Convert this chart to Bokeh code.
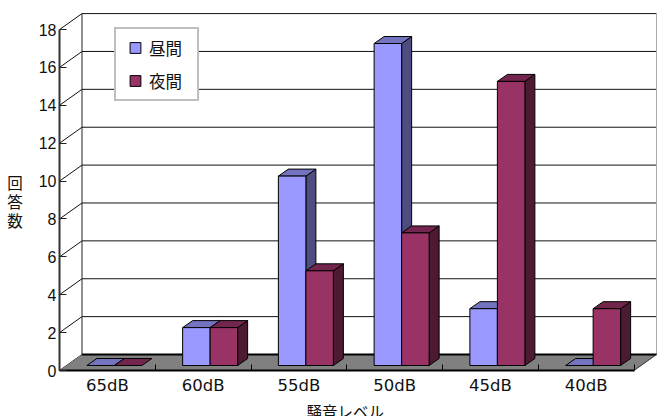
from bokeh.embed import file_html
from bokeh.models import FixedTicker, Legend, LegendItem, Range1d, Title
from bokeh.plotting import figure
from bokeh.resources import INLINE

# Noise survey: number of answers per noise level, daytime and night-time
levels = ["65dB", "60dB", "55dB", "50dB", "45dB", "40dB"]
daytime = [0, 2, 10, 17, 3, 0]
nighttime = [0, 2, 5, 7, 15, 3]
y_ticks = [0, 2, 4, 6, 8, 10, 12, 14, 16, 18]
day_label = "昼間"
night_label = "夜間"
x_title = "騒音レベル"
y_title = "\n回\n答\n数"

# Pixel scale of the chart frame
PX_X = 95.75
PX_Y = 18.94
FRAME_W = 598
FRAME_H = 358


def dx(px):
    return px / PX_X


def dy(px):
    return px / PX_Y


# Oblique projection used for the pseudo 3D look
WALL_X, WALL_Y = dx(22.5), dy(16)
BAR_X, BAR_Y = dx(7), dy(5)
SIDE_X, SIDE_Y = dx(10), dy(7)
BAR_W = dx(27.5)
N = len(levels)

p = figure(
    width=657,
    height=416,
    frame_width=FRAME_W,
    frame_height=FRAME_H,
    min_border_left=59,
    min_border_right=0,
    min_border_top=12,
    min_border_bottom=46,
    x_range=Range1d(0, FRAME_W / PX_X),
    y_range=Range1d(0, FRAME_H / PX_Y),
    output_backend="svg",
    toolbar_location=None,
    background_fill_color="white",
    border_fill_color="white",
    outline_line_color=None,
)
p.grid.visible = False

# Back wall: horizontal rules, left and right edges, depth lines to the front axis
p.segment(
    [WALL_X] * len(y_ticks),
    [v + WALL_Y for v in y_ticks],
    [N + WALL_X] * len(y_ticks),
    [v + WALL_Y for v in y_ticks],
    line_color="#111111",
    line_width=1,
)
p.segment(
    [0] * len(y_ticks),
    y_ticks,
    [WALL_X] * len(y_ticks),
    [v + WALL_Y for v in y_ticks],
    line_color="#111111",
    line_width=1,
)
p.segment([WALL_X], [WALL_Y], [WALL_X], [y_ticks[-1] + WALL_Y], line_color="#222222", line_width=1)
p.segment([N + WALL_X], [WALL_Y], [N + WALL_X], [y_ticks[-1] + WALL_Y], line_color="#aaaaaa", line_width=1)

# Floor
p.patch(
    [0, WALL_X, N + WALL_X, N],
    [0, WALL_Y, WALL_Y, 0],
    fill_color="#808080",
    line_color=None,
)
p.segment([WALL_X], [WALL_Y], [N + WALL_X], [WALL_Y], line_color="black", line_width=2)
p.segment([N], [0], [N + WALL_X], [WALL_Y], line_color="#333333", line_width=1)


def draw_bar(left, value, front, top, side):
    """One prism: side face, top face, then the front when it has any height."""
    x0, x1 = left + BAR_X, left + BAR_X + BAR_W
    y0, y1 = BAR_Y, BAR_Y + value
    if value > 0:
        p.patch(
            [x1, x1 + SIDE_X, x1 + SIDE_X, x1],
            [y0, y0 + SIDE_Y, y1 + SIDE_Y, y1],
            fill_color=side,
            line_color="black",
            line_width=1,
        )
    p.patch(
        [x0, x1, x1 + SIDE_X, x0 + SIDE_X],
        [y1, y1, y1 + SIDE_Y, y1 + SIDE_Y],
        fill_color=top,
        line_color="black",
        line_width=1,
    )
    if value > 0:
        p.quad(left=[x0], right=[x1], bottom=[y0], top=[y1], fill_color=front, line_color="black", line_width=1)


for i in range(N):
    draw_bar(i + 0.5 - BAR_W, daytime[i], "#9999FF", "#7373BF", "#4D4D80")
    draw_bar(i + 0.5, nighttime[i], "#993366", "#73264D", "#4D1A33")

# Axes: category names sit between the boundary ticks
p.yaxis.ticker = FixedTicker(ticks=y_ticks)
p.yaxis.bounds = (y_ticks[0], y_ticks[-1])
p.yaxis.axis_line_color = "#333333"
p.yaxis.axis_line_width = 2
p.yaxis.major_tick_in = 7
p.yaxis.major_tick_out = 0
p.yaxis.major_tick_line_color = "#222222"
p.yaxis.minor_tick_line_color = None
p.yaxis.major_label_text_font = "Liberation Sans"
p.yaxis.major_label_text_font_size = "16px"
p.yaxis.major_label_text_color = "#111111"
p.yaxis.major_label_standoff = 3
p.yaxis.axis_label = y_title
p.yaxis.axis_label_orientation = "horizontal"
p.yaxis.axis_label_standoff = 13
p.yaxis.axis_label_text_font = "Noto Sans CJK JP"
p.yaxis.axis_label_text_font_size = "15.5px"
p.yaxis.axis_label_text_font_style = "normal"
p.yaxis.axis_label_text_color = "#111111"
p.yaxis.axis_label_text_line_height = 0.875

p.xaxis.ticker = FixedTicker(ticks=[i + 0.5 for i in range(N)], minor_ticks=list(range(N + 1)))
p.xaxis.bounds = (0, N)
p.xaxis.major_label_overrides = {i + 0.5: name for i, name in enumerate(levels)}
p.xaxis.axis_line_color = "black"
p.xaxis.axis_line_width = 2
p.xaxis.major_tick_in = 0
p.xaxis.major_tick_out = 0
p.xaxis.minor_tick_in = 6
p.xaxis.minor_tick_out = 0
p.xaxis.minor_tick_line_color = "black"
p.xaxis.major_label_text_font = "DejaVu Sans"
p.xaxis.major_label_text_font_size = "16.5px"
p.xaxis.major_label_text_color = "#111111"
p.xaxis.major_label_standoff = 5

# Horizontal title below the axis, centred on the bars rather than the frame
p.add_layout(
    Title(
        text=x_title,
        align="left",
        offset=247,
        standoff=0,
        text_font="Noto Sans CJK JP",
        text_font_size="15.5px",
        text_font_style="normal",
        text_color="#111111",
    ),
    "below",
)

# Legend keys: square markers tucked under the opaque legend box, which also sets their size
key_x = [dx(76)]
key_y = [dy(304)]
key_day = p.scatter(key_x, key_y, marker="square", size=4, fill_color="#9999FF", line_color="black", line_width=1)
key_night = p.scatter(key_x, key_y, marker="square", size=4, fill_color="#993366", line_color="black", line_width=1)
legend = Legend(
    items=[
        LegendItem(label=day_label, renderers=[key_day]),
        LegendItem(label=night_label, renderers=[key_night]),
    ],
    location=(55, 269),
    orientation="vertical",
    padding=5,
    margin=0,
    spacing=6,
    glyph_width=28,
    glyph_height=27,
    label_standoff=0,
    label_height=27,
    label_width=43,
    label_text_font="Noto Sans CJK JP",
    label_text_font_size="16.5px",
    label_text_color="#111111",
    background_fill_color="white",
    background_fill_alpha=1,
    border_line_color="#808080",
    border_line_width=2,
)
p.add_layout(legend, "center")

open("out.html", "w").write(file_html(p, INLINE))
